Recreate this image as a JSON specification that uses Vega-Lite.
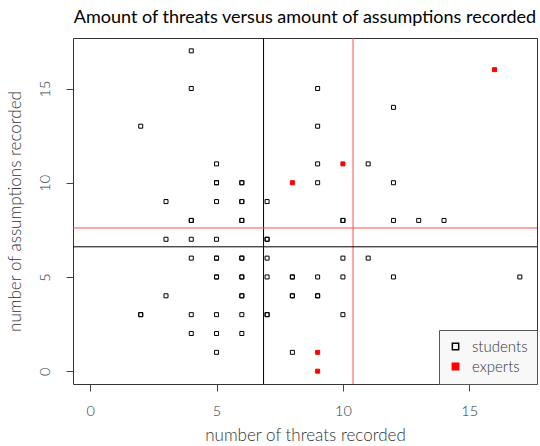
{
  "$schema": "https://vega.github.io/schema/vega-lite/v6.json",
  "autosize": "none",
  "width": 464,
  "height": 346,
  "padding": {"left": 73, "top": 38, "right": 3, "bottom": 62},
  "background": "white",
  "config": {
    "font": "Lato",
    "view": {"stroke": "#333", "strokeWidth": 1},
    "axis": {
      "grid": false,
      "domain": false,
      "tickColor": "#444",
      "tickSize": 7,
      "labelFont": "Lato",
      "labelFontSize": 14.5,
      "labelFontWeight": 300,
      "labelColor": "#333",
      "titleFont": "Lato",
      "titleFontSize": 17,
      "titleFontWeight": 300,
      "titleColor": "#333"
    }
  },
  "title": {
    "text": "Amount of threats versus amount of assumptions recorded",
    "font": "Lato",
    "fontSize": 18,
    "fontWeight": 400,
    "color": "black",
    "anchor": "middle",
    "offset": 11
  },
  "datasets": {
    "points": [
      {"group": "students", "threats": 4, "assumptions": 17},
      {"group": "students", "threats": 4, "assumptions": 15},
      {"group": "students", "threats": 2, "assumptions": 13},
      {"group": "students", "threats": 5, "assumptions": 11},
      {"group": "students", "threats": 5, "assumptions": 10},
      {"group": "students", "threats": 5, "assumptions": 10},
      {"group": "students", "threats": 6, "assumptions": 10},
      {"group": "students", "threats": 6, "assumptions": 10},
      {"group": "students", "threats": 3, "assumptions": 9},
      {"group": "students", "threats": 5, "assumptions": 9},
      {"group": "students", "threats": 6, "assumptions": 9},
      {"group": "students", "threats": 6, "assumptions": 9},
      {"group": "students", "threats": 7, "assumptions": 9},
      {"group": "students", "threats": 9, "assumptions": 15},
      {"group": "students", "threats": 12, "assumptions": 14},
      {"group": "students", "threats": 9, "assumptions": 13},
      {"group": "students", "threats": 9, "assumptions": 11},
      {"group": "students", "threats": 11, "assumptions": 11},
      {"group": "students", "threats": 9, "assumptions": 10},
      {"group": "students", "threats": 12, "assumptions": 10},
      {"group": "students", "threats": 4, "assumptions": 8},
      {"group": "students", "threats": 4, "assumptions": 8},
      {"group": "students", "threats": 6, "assumptions": 8},
      {"group": "students", "threats": 6, "assumptions": 8},
      {"group": "students", "threats": 10, "assumptions": 8},
      {"group": "students", "threats": 10, "assumptions": 8},
      {"group": "students", "threats": 12, "assumptions": 8},
      {"group": "students", "threats": 13, "assumptions": 8},
      {"group": "students", "threats": 14, "assumptions": 8},
      {"group": "students", "threats": 3, "assumptions": 7},
      {"group": "students", "threats": 4, "assumptions": 7},
      {"group": "students", "threats": 5, "assumptions": 7},
      {"group": "students", "threats": 7, "assumptions": 7},
      {"group": "students", "threats": 7, "assumptions": 7},
      {"group": "students", "threats": 4, "assumptions": 6},
      {"group": "students", "threats": 5, "assumptions": 6},
      {"group": "students", "threats": 5, "assumptions": 6},
      {"group": "students", "threats": 6, "assumptions": 6},
      {"group": "students", "threats": 6, "assumptions": 6},
      {"group": "students", "threats": 7, "assumptions": 6},
      {"group": "students", "threats": 10, "assumptions": 6},
      {"group": "students", "threats": 11, "assumptions": 6},
      {"group": "students", "threats": 5, "assumptions": 5},
      {"group": "students", "threats": 5, "assumptions": 5},
      {"group": "students", "threats": 6, "assumptions": 5},
      {"group": "students", "threats": 6, "assumptions": 5},
      {"group": "students", "threats": 7, "assumptions": 5},
      {"group": "students", "threats": 8, "assumptions": 5},
      {"group": "students", "threats": 8, "assumptions": 5},
      {"group": "students", "threats": 9, "assumptions": 5},
      {"group": "students", "threats": 10, "assumptions": 5},
      {"group": "students", "threats": 12, "assumptions": 5},
      {"group": "students", "threats": 17, "assumptions": 5},
      {"group": "students", "threats": 3, "assumptions": 4},
      {"group": "students", "threats": 6, "assumptions": 4},
      {"group": "students", "threats": 6, "assumptions": 4},
      {"group": "students", "threats": 8, "assumptions": 4},
      {"group": "students", "threats": 8, "assumptions": 4},
      {"group": "students", "threats": 9, "assumptions": 4},
      {"group": "students", "threats": 9, "assumptions": 4},
      {"group": "students", "threats": 2, "assumptions": 3},
      {"group": "students", "threats": 2, "assumptions": 3},
      {"group": "students", "threats": 4, "assumptions": 3},
      {"group": "students", "threats": 5, "assumptions": 3},
      {"group": "students", "threats": 6, "assumptions": 3},
      {"group": "students", "threats": 7, "assumptions": 3},
      {"group": "students", "threats": 7, "assumptions": 3},
      {"group": "students", "threats": 10, "assumptions": 3},
      {"group": "students", "threats": 4, "assumptions": 2},
      {"group": "students", "threats": 5, "assumptions": 2},
      {"group": "students", "threats": 6, "assumptions": 2},
      {"group": "students", "threats": 5, "assumptions": 1},
      {"group": "students", "threats": 8, "assumptions": 1},
      {"group": "experts", "threats": 16, "assumptions": 16},
      {"group": "experts", "threats": 10, "assumptions": 11},
      {"group": "experts", "threats": 8, "assumptions": 10},
      {"group": "experts", "threats": 9, "assumptions": 1},
      {"group": "experts", "threats": 9, "assumptions": 0}
    ],
    "means": [
      {"group": "students", "mean_threats": 6.86, "mean_assumptions": 6.6},
      {"group": "experts", "mean_threats": 10.4, "mean_assumptions": 7.6}
    ]
  },
  "layer": [
    {
      "data": {"name": "means"},
      "mark": {"type": "rule", "strokeWidth": 1},
      "encoding": {
        "x": {"field": "mean_threats", "type": "quantitative"},
        "color": {"condition": {"test": "datum.group === 'experts'", "value": "#ff4d4d"}, "value": "black"}
      }
    },
    {
      "data": {"name": "means"},
      "mark": {"type": "rule", "strokeWidth": 1},
      "encoding": {
        "y": {"field": "mean_assumptions", "type": "quantitative"},
        "color": {"condition": {"test": "datum.group === 'experts'", "value": "#ff4d4d"}, "value": "black"}
      }
    },
    {
      "data": {"name": "points"},
      "mark": {"type": "point", "shape": "square", "filled": false, "size": 16, "strokeWidth": 1, "opacity": 1},
      "encoding": {
        "x": {
          "field": "threats", "type": "quantitative",
          "scale": {"domain": [-0.68, 17.68], "nice": false, "zero": false},
          "axis": {"values": [0, 5, 10, 15], "title": "number of threats recorded", "labelPadding": 13, "titlePadding": 10}
        },
        "y": {
          "field": "assumptions", "type": "quantitative",
          "scale": {"domain": [-0.68, 17.68], "nice": false, "zero": false},
          "axis": {"values": [0, 5, 10, 15], "title": "number of assumptions recorded", "labelAngle": -90, "labelAlign": "center", "labelBaseline": "bottom", "labelPadding": 14, "titlePadding": 13}
        },
        "color": {
          "field": "group", "type": "nominal",
          "scale": {"domain": ["students", "experts"], "range": ["black", "red"]},
          "legend": {
            "title": null,
            "orient": "bottom-right",
            "offset": 0,
            "padding": 9,
            "rowPadding": 4,
            "fillColor": "#f8f8f8",
            "strokeColor": "#555",
            "symbolType": "square",
            "symbolSize": 40,
            "symbolStrokeWidth": 1.5,
            "labelFont": "Lato",
            "labelFontSize": 15,
            "labelFontWeight": 300,
            "labelColor": "#333",
            "labelOffset": 9
          }
        },
        "fill": {
          "field": "group", "type": "nominal",
          "scale": {"domain": ["students", "experts"], "range": ["transparent", "red"]},
          "legend": {
            "title": null,
            "orient": "bottom-right",
            "offset": 0,
            "padding": 9,
            "rowPadding": 4,
            "fillColor": "#f8f8f8",
            "strokeColor": "#555",
            "symbolType": "square",
            "symbolSize": 40,
            "symbolStrokeWidth": 1.5,
            "labelFont": "Lato",
            "labelFontSize": 15,
            "labelFontWeight": 300,
            "labelColor": "#333",
            "labelOffset": 9
          }
        }
      }
    }
  ]
}
